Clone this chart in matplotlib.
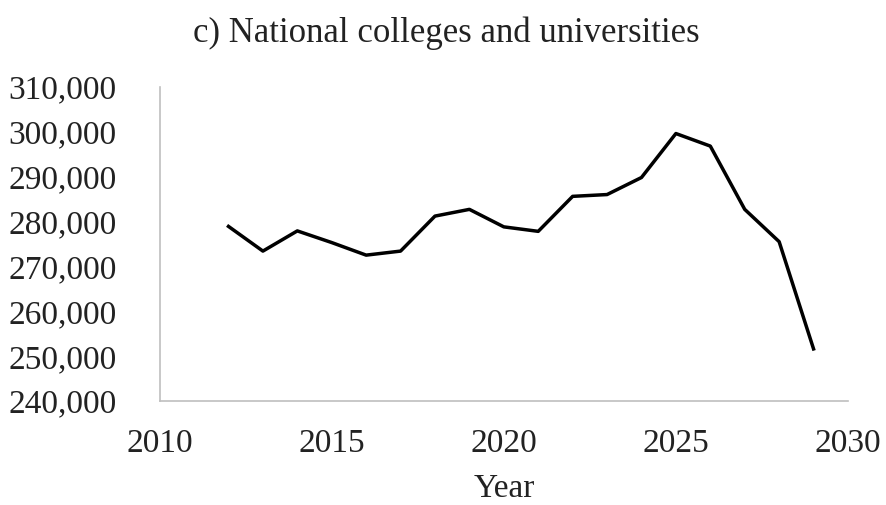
import matplotlib
matplotlib.use("Agg")
import matplotlib.pyplot as plt
from matplotlib.ticker import FuncFormatter

years = [2012, 2013, 2014, 2015, 2016, 2017, 2018, 2019, 2020,
         2021, 2022, 2023, 2024, 2025, 2026, 2027, 2028, 2029]
students = [278900, 273400, 277900, 275300, 272500, 273400, 281200, 282700, 278800,
            277800, 285600, 286000, 289800, 299600, 296800, 282700, 275500, 251600]

plt.rcParams['font.family'] = ['Liberation Serif', 'DejaVu Serif']

fig = plt.figure(figsize=(8.87, 5.05), dpi=100)
ax = fig.add_axes([0.180, 0.206, 0.776, 0.622])

ax.plot(years, students, color='black', linewidth=2.5)

ax.set_xlim(2010, 2030)
ax.set_ylim(240000, 310000)
ax.set_xticks(range(2010, 2031, 5))
ax.set_yticks(range(240000, 310001, 10000))
ax.yaxis.set_major_formatter(FuncFormatter(lambda v, p: f"{int(v):,}"))
ax.tick_params(length=0, labelsize=24, colors='#222222')
ax.tick_params(axis='y', pad=31)
ax.tick_params(axis='x', pad=20)

for s in ['top', 'right']:
    ax.spines[s].set_visible(False)
for s in ['left', 'bottom']:
    ax.spines[s].set_color('#BFBFBF')
    ax.spines[s].set_linewidth(1.2)

ax.set_xlabel("Year", fontsize=24, color='#222222', labelpad=10)
fig.text(0.503, 0.935, "c) National colleges and universities", ha='center', va='center',
         fontsize=25, color='#222222')

fig.savefig("out.png", dpi=100)
